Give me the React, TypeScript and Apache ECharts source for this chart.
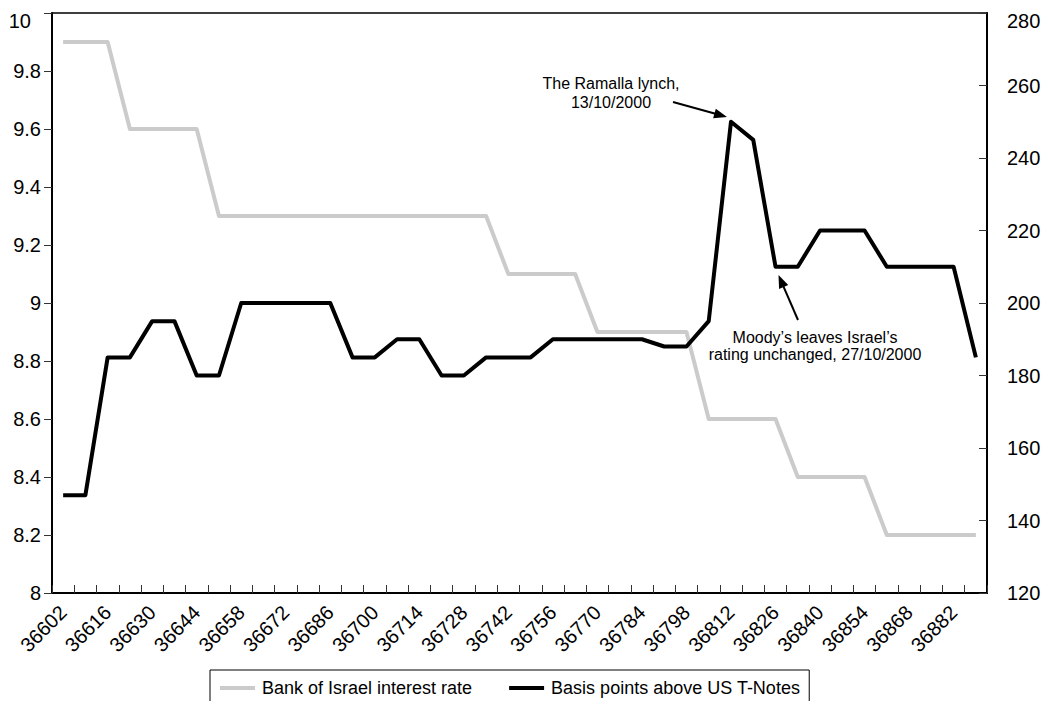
import React, { useEffect, useRef } from "react";
import * as echarts from "echarts";

const dates: string[] = [
  "36602", "36609", "36616", "36623", "36630", "36637", "36644", "36651", "36658", "36665",
  "36672", "36679", "36686", "36693", "36700", "36707", "36714", "36721", "36728", "36735",
  "36742", "36749", "36756", "36763", "36770", "36777", "36784", "36791", "36798", "36805",
  "36812", "36819", "36826", "36833", "36840", "36847", "36854", "36861", "36868", "36875",
  "36882", "36889",
];

const bankRate: number[] = [
  9.9, 9.9, 9.9, 9.6, 9.6, 9.6, 9.6, 9.3, 9.3, 9.3,
  9.3, 9.3, 9.3, 9.3, 9.3, 9.3, 9.3, 9.3, 9.3, 9.3,
  9.1, 9.1, 9.1, 9.1, 8.9, 8.9, 8.9, 8.9, 8.9, 8.6,
  8.6, 8.6, 8.6, 8.4, 8.4, 8.4, 8.4, 8.2, 8.2, 8.2,
  8.2, 8.2,
];

const basisPoints: number[] = [
  147, 147, 185, 185, 195, 195, 180, 180, 200, 200,
  200, 200, 200, 185, 185, 190, 190, 180, 180, 185,
  185, 185, 190, 190, 190, 190, 190, 188, 188, 195,
  250, 245, 210, 210, 220, 220, 220, 210, 210, 210,
  210, 185,
];

const seriesNames = ["Bank of Israel interest rate", "Basis points above US T-Notes"];
const leftTicks = { min: 8, max: 10, interval: 0.2 };
const rightTicks = { min: 120, max: 280, interval: 20 };

const FONT = "'Liberation Sans', Arial, Helvetica, sans-serif";

function arrow(x1: number, y1: number, x2: number, y2: number) {
  const dx = x2 - x1;
  const dy = y2 - y1;
  const len = Math.sqrt(dx * dx + dy * dy);
  const ux = dx / len;
  const uy = dy / len;
  const hl = 13;
  const hw = 5;
  const bx = x2 - ux * hl;
  const by = y2 - uy * hl;
  const px = -uy;
  const py = ux;
  return [
    {
      type: "line",
      shape: { x1, y1, x2: bx + ux * 2, y2: by + uy * 2 },
      style: { stroke: "#000", lineWidth: 2 },
    },
    {
      type: "polygon",
      shape: {
        points: [
          [x2, y2],
          [bx + px * hw, by + py * hw],
          [bx - px * hw, by - py * hw],
        ],
      },
      style: { fill: "#000" },
    },
  ];
}

export default function App() {
  const ref = useRef<HTMLDivElement>(null);

  useEffect(() => {
    if (!ref.current) return;
    const chart = echarts.init(ref.current, undefined, { renderer: "svg" });
    const option: any = {
      animation: false,
      backgroundColor: "#fff",
      textStyle: { fontFamily: FONT, color: "#000" },
      grid: {
        left: 52,
        right: 60,
        top: 13,
        bottom: 108,
        show: true,
        borderColor: "#000",
        borderWidth: 1.5,
        containLabel: false,
      },
      legend: {
        left: 210,
        top: 670,
        padding: [9, 9, 9, 10],
        borderColor: "#000",
        borderWidth: 1,
        icon: "rect",
        itemWidth: 35,
        itemHeight: 4,
        itemGap: 37,
        textStyle: { fontSize: 18, fontFamily: FONT, color: "#000", padding: [0, 0, 0, 2] },
        data: seriesNames,
      },
      xAxis: {
        type: "category",
        data: dates,
        boundaryGap: true,
        axisLine: { show: true, lineStyle: { color: "#000", width: 2 } },
        axisTick: { show: true, inside: true, length: 8, interval: 0, lineStyle: { color: "#333", width: 1 } },
        axisLabel: {
          interval: 1,
          rotate: 45,
          margin: 16,
          fontSize: 20,
          fontFamily: FONT,
          color: "#000",
        },
        splitLine: { show: false },
      },
      yAxis: [
        {
          type: "value",
          position: "left",
          min: leftTicks.min,
          max: leftTicks.max,
          interval: leftTicks.interval,
          axisLine: { show: true, lineStyle: { color: "#000", width: 2 } },
          axisTick: { show: true, inside: false, length: 8, lineStyle: { color: "#333", width: 1 } },
          axisLabel: {
            margin: 11,
            fontSize: 20,
            fontFamily: FONT,
            color: "#000",
            formatter: (v: number) => {
              const s = String(parseFloat(v.toFixed(1)));
              return v >= leftTicks.max ? `{top|${s}}` : s;
            },
            rich: {
              top: { padding: [16, 10, 0, 0], fontSize: 20, fontFamily: FONT, color: "#000" },
            },
          },
          splitLine: { show: false },
        },
        {
          type: "value",
          position: "right",
          min: rightTicks.min,
          max: rightTicks.max,
          interval: rightTicks.interval,
          axisLine: { show: true, lineStyle: { color: "#000", width: 2 } },
          axisTick: { show: true, inside: true, length: 8, lineStyle: { color: "#333", width: 1 } },
          axisLabel: {
            margin: 20,
            fontSize: 20,
            fontFamily: FONT,
            color: "#000",
            formatter: (v: number) => (v >= rightTicks.max ? `{top|${v}}` : String(v)),
            rich: {
              top: { padding: [16, 0, 0, 0], fontSize: 20, fontFamily: FONT, color: "#000" },
            },
          },
          splitLine: { show: false },
        },
      ],
      series: [
        {
          name: seriesNames[0],
          type: "line",
          yAxisIndex: 0,
          data: bankRate,
          symbol: "none",
          showSymbol: false,
          lineStyle: { color: "#cbcbcb", width: 4, join: "round" },
          itemStyle: { color: "#cbcbcb" },
          z: 2,
        },
        {
          name: seriesNames[1],
          type: "line",
          yAxisIndex: 1,
          data: basisPoints,
          symbol: "none",
          showSymbol: false,
          lineStyle: { color: "#000", width: 4, join: "round" },
          itemStyle: { color: "#000" },
          z: 3,
        },
      ],
      graphic: [
        {
          type: "text",
          x: 611,
          y: 83.5,
          style: {
            text: "The Ramalla lynch,",
            font: `16px ${FONT}`,
            fill: "#000",
            textAlign: "center",
            textVerticalAlign: "middle",
          },
        },
        {
          type: "text",
          x: 611,
          y: 102.5,
          style: {
            text: "13/10/2000",
            font: `16px ${FONT}`,
            fill: "#000",
            textAlign: "center",
            textVerticalAlign: "middle",
          },
        },
        {
          type: "text",
          x: 815,
          y: 337,
          style: {
            text: "Moody\u2019s leaves Israel\u2019s",
            font: `16px ${FONT}`,
            fill: "#000",
            textAlign: "center",
            textVerticalAlign: "middle",
          },
        },
        {
          type: "text",
          x: 815,
          y: 354.5,
          style: {
            text: "rating unchanged, 27/10/2000",
            font: `16px ${FONT}`,
            fill: "#000",
            textAlign: "center",
            textVerticalAlign: "middle",
          },
        },
        ...arrow(673, 102, 727, 117),
        ...arrow(798, 320, 778.5, 275),
      ],
    };
    chart.setOption(option);
    return () => {
      chart.dispose();
    };
  }, []);

  return (
    <div
      ref={ref}
      style={{ position: "absolute", left: 0, top: 0, width: 1047, height: 701, background: "#fff" }}
    />
  );
}
